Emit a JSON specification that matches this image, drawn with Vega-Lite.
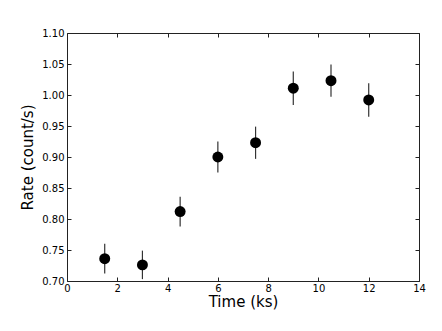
{
  "$schema": "https://vega.github.io/schema/vega-lite/v6.json",
  "width": 352,
  "height": 248,
  "autosize": {"type": "none"},
  "padding": {"left": 67, "top": 33, "right": 23, "bottom": 50},
  "background": "white",
  "config": {
    "view": {"stroke": "#222222", "strokeWidth": 1},
    "font": "DejaVu Sans",
    "axis": {
      "grid": false,
      "domain": false,
      "labelFlush": false,
      "labelOverlap": false,
      "tickColor": "#222222",
      "tickSize": -4,
      "tickWidth": 1,
      "labelFont": "DejaVu Sans",
      "labelFontSize": 10,
      "labelColor": "black",
      "titleFont": "DejaVu Sans",
      "titleFontSize": 15,
      "titleFontWeight": "normal",
      "titleColor": "black"
    }
  },
  "data": {
    "values": [
      {"t": 1.5, "rate": 0.736, "err": 0.024},
      {"t": 3.0, "rate": 0.726, "err": 0.023},
      {"t": 4.5, "rate": 0.812, "err": 0.024},
      {"t": 6.0, "rate": 0.900, "err": 0.025},
      {"t": 7.5, "rate": 0.923, "err": 0.026},
      {"t": 9.0, "rate": 1.011, "err": 0.027},
      {"t": 10.5, "rate": 1.023, "err": 0.026},
      {"t": 12.0, "rate": 0.992, "err": 0.027}
    ]
  },
  "transform": [
    {"calculate": "datum.rate - datum.err", "as": "lo"},
    {"calculate": "datum.rate + datum.err", "as": "hi"}
  ],
  "layer": [
    {
      "mark": {"type": "rule", "color": "#333333", "strokeWidth": 1.2},
      "encoding": {
        "x": {"field": "t", "type": "quantitative", "scale": {"domain": [0, 14], "nice": false},
              "axis": {"orient": "bottom", "title": "Time (ks)", "values": [0,2,4,6,8,10,12,14], "format": "d", "labelPadding": 6, "titlePadding": 1}},
        "y": {"field": "lo", "type": "quantitative", "scale": {"domain": [0.70, 1.10], "nice": false, "zero": false},
              "axis": {"orient": "left", "title": "Rate (count/s)", "values": [0.70,0.75,0.80,0.85,0.90,0.95,1.00,1.05,1.10], "format": ".2f", "labelPadding": 7, "titlePadding": 6}},
        "y2": {"field": "hi"}
      }
    },
    {
      "mark": {"type": "point", "filled": true, "shape": "circle", "size": 120, "color": "black", "opacity": 1},
      "encoding": {
        "x": {"field": "t", "type": "quantitative",
              "axis": {"orient": "top", "title": null, "labels": false, "values": [0,2,4,6,8,10,12,14]}},
        "y": {"field": "rate", "type": "quantitative",
              "axis": {"orient": "right", "title": null, "labels": false, "values": [0.70,0.75,0.80,0.85,0.90,0.95,1.00,1.05,1.10]}}
      }
    }
  ],
  "resolve": {"axis": {"x": "independent", "y": "independent"}}
}
